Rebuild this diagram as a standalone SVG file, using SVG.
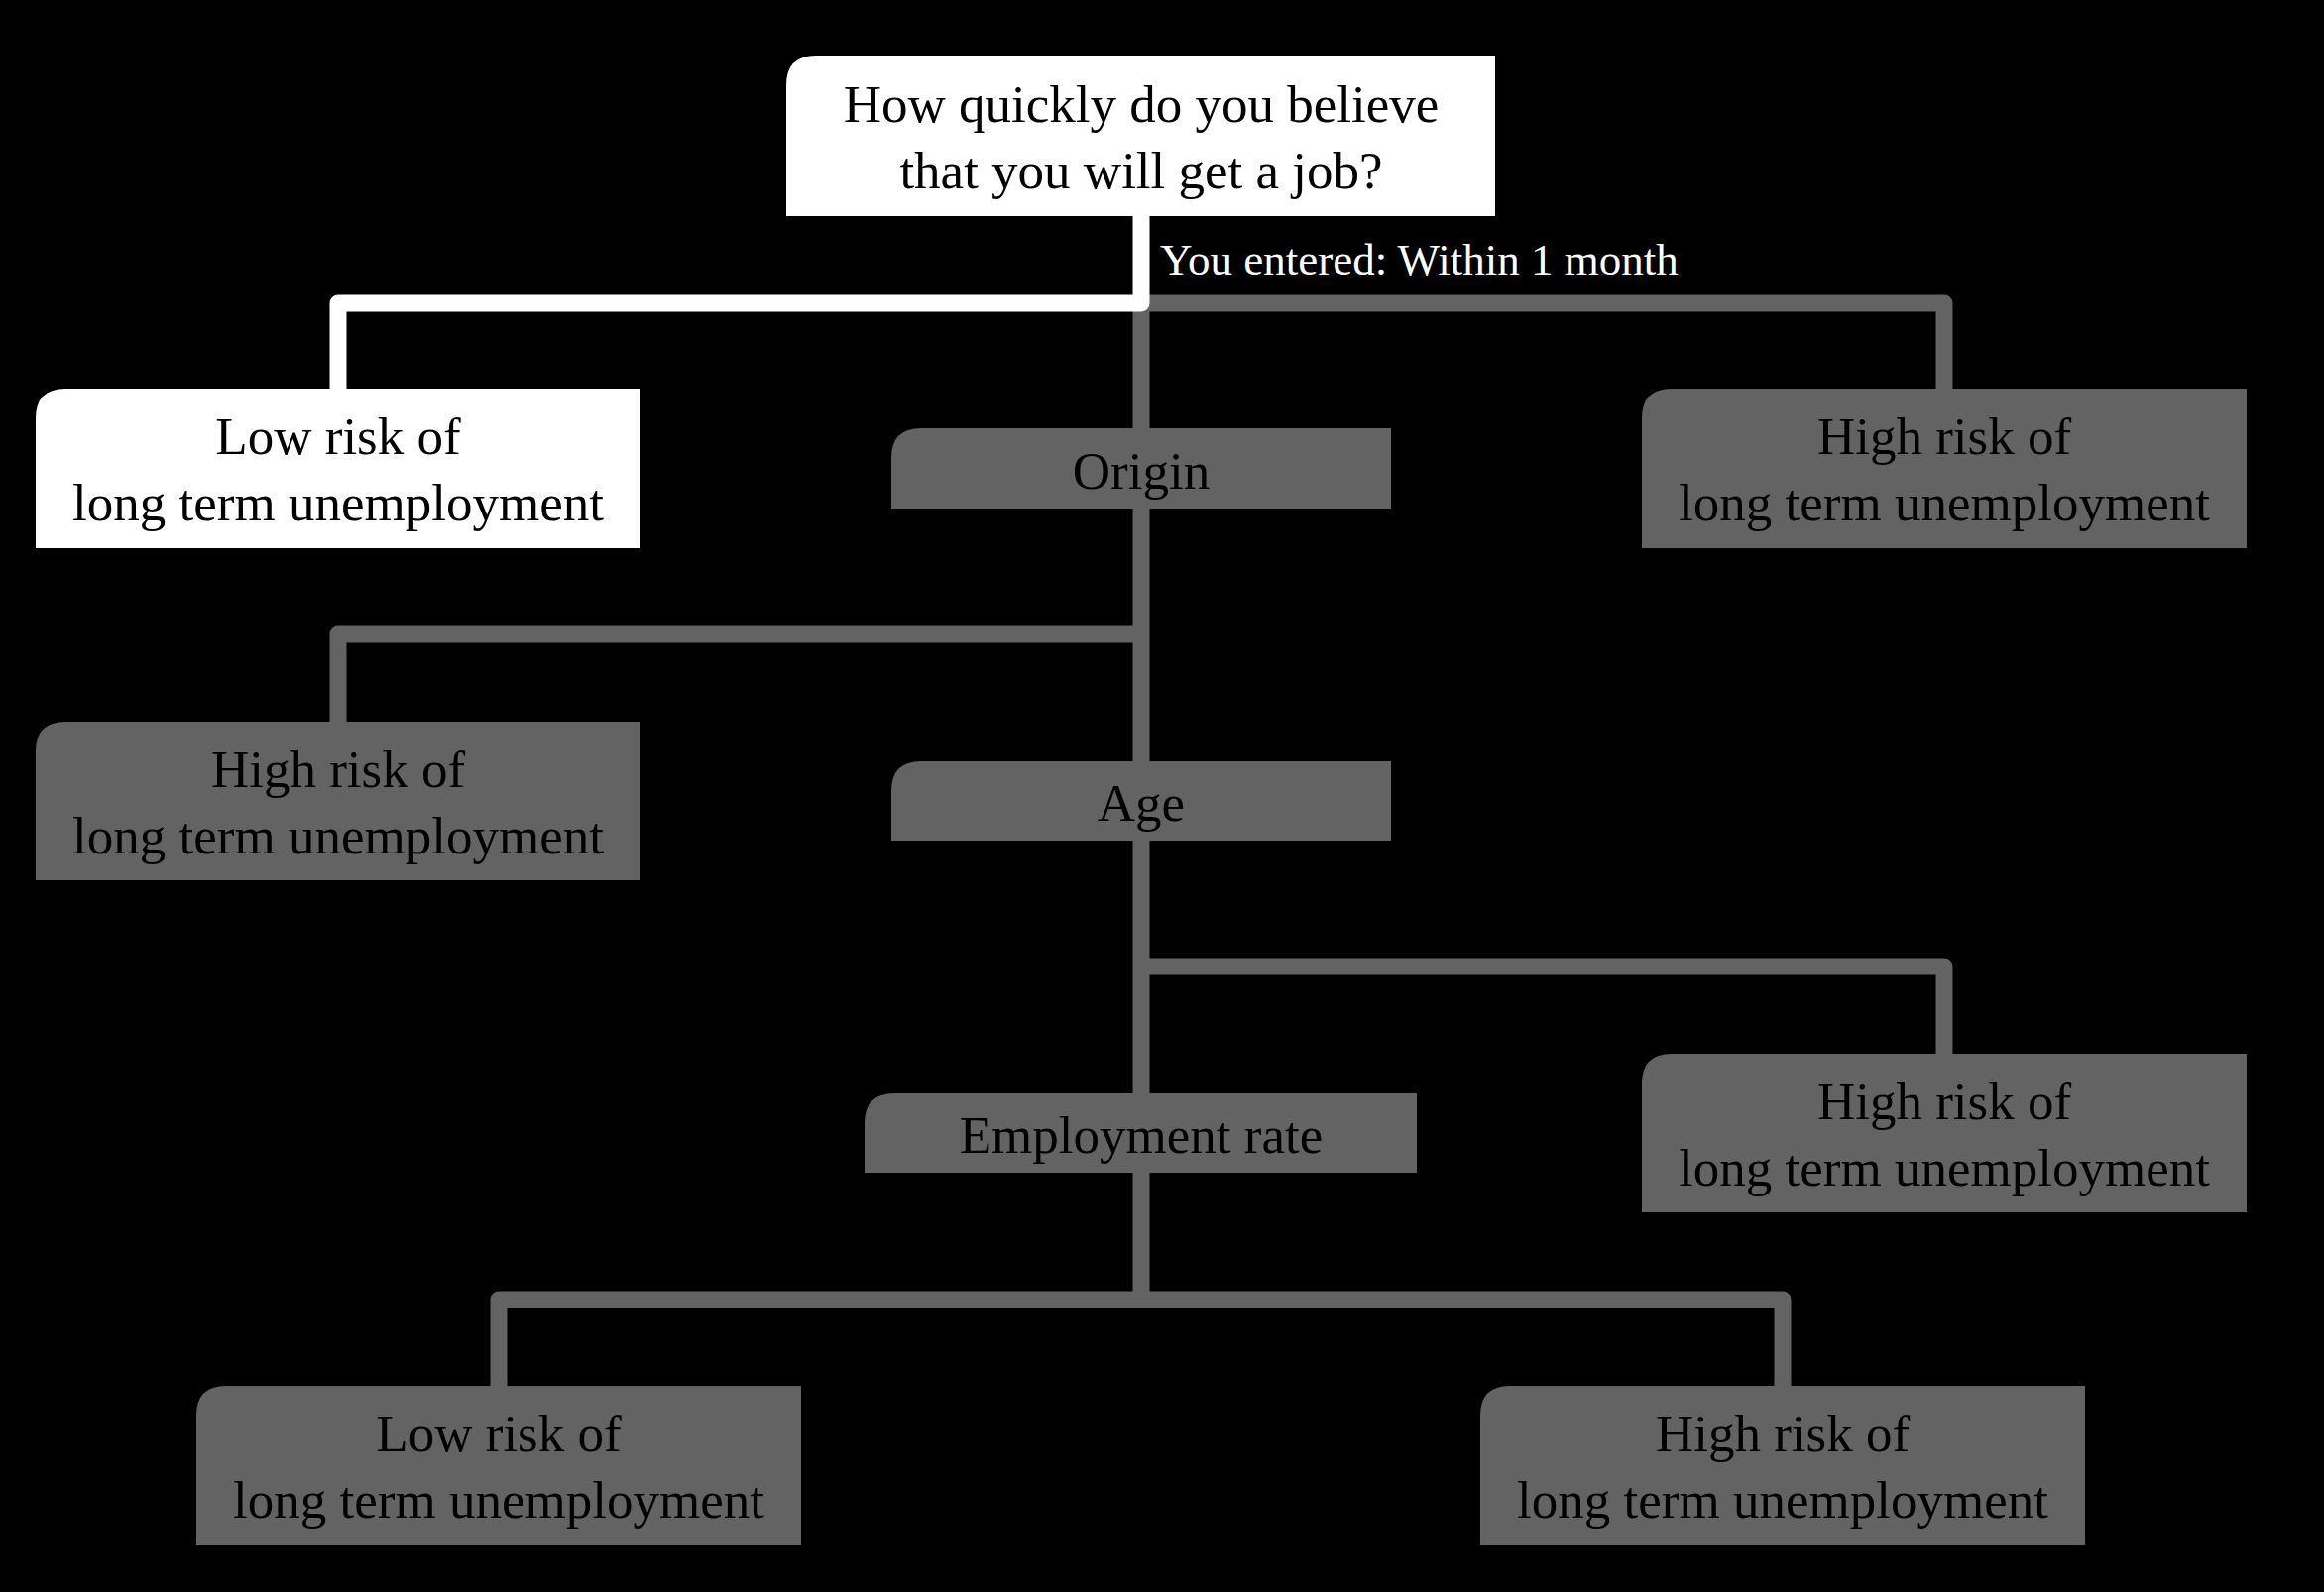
<svg xmlns="http://www.w3.org/2000/svg" width="2344" height="1606" viewBox="0 0 2344 1606">
<style>
  .bg { fill: #000000; }
  .conn { fill: none; stroke: #636363; stroke-width: 17; stroke-linejoin: round; }
  .conn-hi { fill: none; stroke: #ffffff; stroke-width: 17; stroke-linejoin: round; }
  .node-hi { fill: #ffffff; }
  .node { fill: #636363; }
  .lbl { font-family: "Liberation Serif", "Times New Roman", serif; font-size: 53px; fill: #000000; text-anchor: middle; }
  .edge-lbl { font-family: "Liberation Serif", "Times New Roman", serif; font-size: 45px; fill: #ffffff; }
</style>
<rect class="bg" x="0" y="0" width="2344" height="1606"/>
<g id="connectors">
  <path class="conn" d="M1151,306 V1311"/>
  <path class="conn" d="M1151,306 H1961 V400"/>
  <path class="conn" d="M1151,640 H341 V736"/>
  <path class="conn" d="M1151,975 H1961 V1071"/>
  <path class="conn" d="M503,1406 V1311 H1798 V1406"/>
  <path class="conn-hi" d="M1151,210 V306 H341 V400"/>
  <text class="edge-lbl" x="1170" y="277">You entered: Within 1 month</text>
</g>
<g id="node-question">
  <path class="node-hi" d="M793,86 Q793,56 823,56 H1508 V218 H793 Z"/>
  <text class="lbl" x="1151" y="123">How quickly do you believe</text>
  <text class="lbl" x="1151" y="190">that you will get a job?</text>
</g>
<g id="node-low1">
  <path class="node-hi" d="M36,422 Q36,392 66,392 H646 V553 H36 Z"/>
  <text class="lbl" x="341" y="458">Low risk of</text>
  <text class="lbl" x="341" y="525">long term unemployment</text>
</g>
<g id="node-high1">
  <path class="node" d="M1656,422 Q1656,392 1686,392 H2266 V553 H1656 Z"/>
  <text class="lbl" x="1961" y="458">High risk of</text>
  <text class="lbl" x="1961" y="525">long term unemployment</text>
</g>
<g id="node-origin">
  <path class="node" d="M899,462 Q899,432 929,432 H1403 V513 H899 Z"/>
  <text class="lbl" x="1151" y="493">Origin</text>
</g>
<g id="node-high2">
  <path class="node" d="M36,758 Q36,728 66,728 H646 V888 H36 Z"/>
  <text class="lbl" x="341" y="794">High risk of</text>
  <text class="lbl" x="341" y="861">long term unemployment</text>
</g>
<g id="node-age">
  <path class="node" d="M899,798 Q899,768 929,768 H1403 V848 H899 Z"/>
  <text class="lbl" x="1151" y="828">Age</text>
</g>
<g id="node-high3">
  <path class="node" d="M1656,1093 Q1656,1063 1686,1063 H2266 V1223 H1656 Z"/>
  <text class="lbl" x="1961" y="1129">High risk of</text>
  <text class="lbl" x="1961" y="1196">long term unemployment</text>
</g>
<g id="node-employment">
  <path class="node" d="M872,1133 Q872,1103 902,1103 H1429 V1183 H872 Z"/>
  <text class="lbl" x="1151" y="1163">Employment rate</text>
</g>
<g id="node-low2">
  <path class="node" d="M198,1428 Q198,1398 228,1398 H808 V1559 H198 Z"/>
  <text class="lbl" x="503" y="1464">Low risk of</text>
  <text class="lbl" x="503" y="1531">long term unemployment</text>
</g>
<g id="node-high4">
  <path class="node" d="M1493,1428 Q1493,1398 1523,1398 H2103 V1559 H1493 Z"/>
  <text class="lbl" x="1798" y="1464">High risk of</text>
  <text class="lbl" x="1798" y="1531">long term unemployment</text>
</g>
</svg>
